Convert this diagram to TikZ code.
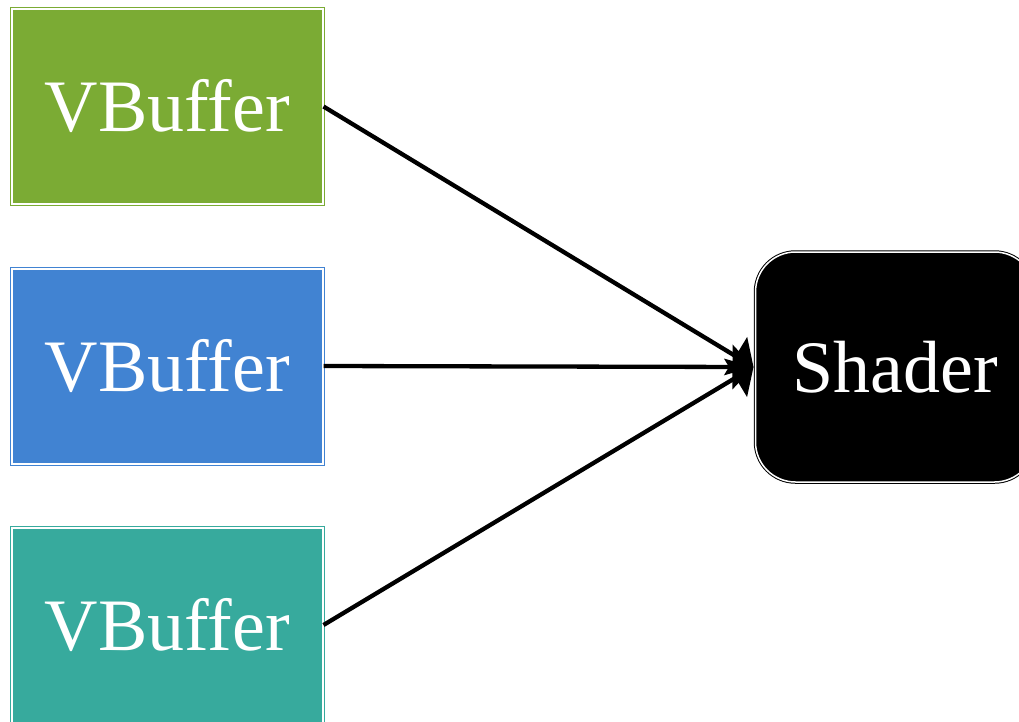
\documentclass[tikz,border=0pt]{standalone}
\usepackage{fontspec}
\setmainfont{Liberation Serif}
\usetikzlibrary{arrows.meta}
\definecolor{bufgreen}{RGB}{123,171,52}
\definecolor{bufblue}{RGB}{65,131,210}
\definecolor{bufteal}{RGB}{55,170,157}
\tikzset{
  buf/.style={draw=#1, fill=#1, double=white, double distance=2pt, line width=1pt,
    minimum width=311pt, minimum height=195pt, inner sep=0pt, text=white,
    font=\fontsize{74}{80}\selectfont},
  shaderbox/.style={draw=black, fill=black, double=white, double distance=1.5pt, line width=1pt,
    rounded corners=40pt, minimum width=279pt, minimum height=230pt, inner sep=0pt,
    text=white, font=\fontsize{74}{80}\selectfont},
  feed/.style={line width=4.3pt, -{Triangle[length=21pt,width=44pt]}}
}
\begin{document}
\begin{tikzpicture}[x=1pt,y=-1pt]
\useasboundingbox (0,0) rectangle (1019,721);
\node[buf=bufgreen] (g) at (167.5,106.5) {VBuffer};
\node[buf=bufblue] (b) at (167.5,366) {VBuffer};
\node[buf=bufteal] (t) at (167.5,625) {VBuffer};
\node[shaderbox] (s) at (895,367) {Shader};
\coordinate (tip) at ([xshift=-1.5pt]s.west);
\draw[feed] (g.east) -- (tip);
\draw[feed] (b.east) -- (tip);
\draw[feed] (t.east) -- (tip);
\end{tikzpicture}
\end{document}
